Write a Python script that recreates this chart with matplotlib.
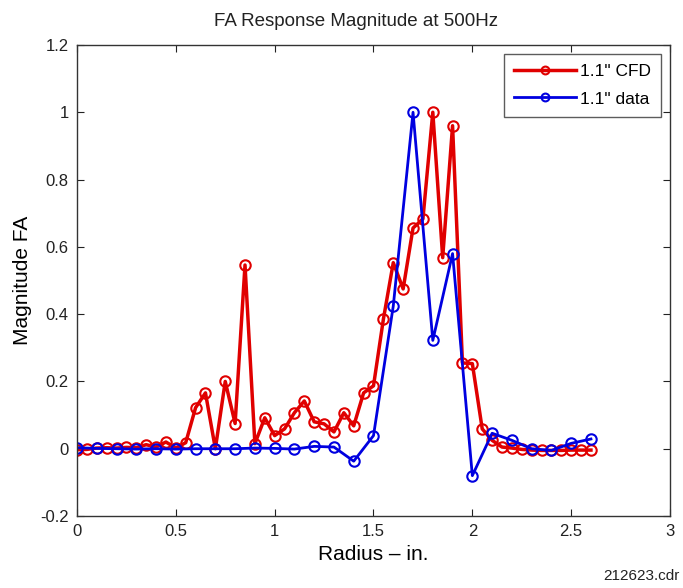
import matplotlib
matplotlib.use("Agg")
import matplotlib.pyplot as plt
import numpy as np

plt.rcParams['font.family'] = ['Liberation Sans', 'DejaVu Sans']

# CFD series (spacing 0.05)
cfd_x = [0.00, 0.05, 0.10, 0.15, 0.20, 0.25, 0.30, 0.35, 0.40, 0.45, 0.50, 0.55,
         0.60, 0.65, 0.70, 0.75, 0.80, 0.85, 0.90, 0.95, 1.00, 1.05, 1.10, 1.15,
         1.20, 1.25, 1.30, 1.35, 1.40, 1.45, 1.50, 1.55, 1.60, 1.65, 1.70, 1.75,
         1.80, 1.85, 1.90, 1.95, 2.00, 2.05, 2.10, 2.15, 2.20, 2.25, 2.30, 2.35,
         2.40, 2.45, 2.50, 2.55, 2.60]
cfd_y = [-0.003, -0.002, 0.002, 0.003, 0.002, 0.004, 0.003, 0.012, 0.005, 0.020, 0.002, 0.018,
         0.122, 0.166, 0.000, 0.200, 0.075, 0.546, 0.015, 0.092, 0.039, 0.059, 0.107, 0.142,
         0.080, 0.074, 0.050, 0.107, 0.068, 0.166, 0.187, 0.385, 0.553, 0.475, 0.656, 0.683,
         1.000, 0.568, 0.960, 0.255, 0.253, 0.059, 0.025, 0.005, 0.002, -0.002, -0.004, -0.005,
         -0.005, -0.005, -0.004, -0.004, -0.004]

# Measured data (spacing 0.1)
dat_x = [0.0, 0.1, 0.2, 0.3, 0.4, 0.5, 0.6, 0.7, 0.8, 0.9, 1.0, 1.1, 1.2, 1.3,
         1.4, 1.5, 1.6, 1.7, 1.8, 1.9, 2.0, 2.1, 2.2, 2.3, 2.4, 2.5, 2.6]
dat_y = [0.003, 0.001, 0.000, -0.001, 0.000, -0.001, 0.000, 0.000, 0.000, 0.002, 0.001, -0.001, 0.007, 0.005,
         -0.037, 0.039, 0.424, 1.000, 0.322, 0.580, -0.080, 0.046, 0.025, 0.000, -0.005, 0.016, 0.029]

x_ticks = [0, 0.5, 1, 1.5, 2, 2.5, 3]
x_tick_labels = ['0', '0.5', '1', '1.5', '2', '2.5', '3']
y_ticks = [-0.2, 0, 0.2, 0.4, 0.6, 0.8, 1.0, 1.2]
y_tick_labels = ['-0.2', '0', '0.2', '0.4', '0.6', '0.8', '1', '1.2']

red = '#e00000'
blue = '#0000e0'

fig = plt.figure(figsize=(6.83, 5.88), dpi=100)
ax = fig.add_axes([0.1127, 0.1224, 0.981 - 0.1127, 0.9235 - 0.1224])

ax.plot(cfd_x, cfd_y, color=red, lw=2.5, marker='o', ms=7.5, mfc='none',
        mec=red, mew=1.5, label='1.1" CFD')
ax.plot(dat_x, dat_y, color=blue, lw=2.0, marker='o', ms=7.5, mfc='none',
        mec=blue, mew=1.5, label='1.1" data')

ax.set_xlim(0, 3)
ax.set_ylim(-0.2, 1.2)
ax.set_xticks(x_ticks)
ax.set_xticklabels(x_tick_labels)
ax.set_yticks(y_ticks)
ax.set_yticklabels(y_tick_labels)
ax.tick_params(direction='in', top=True, right=True, labelsize=12, length=5,
               colors='#222222', pad=6)
for s in ax.spines.values():
    s.set_color('#333333')
    s.set_linewidth(1.0)

ax.set_xlabel('Radius – in.', fontsize=15, labelpad=4)
ax.set_ylabel('Magnitude FA', fontsize=15, labelpad=6)
ax.set_title('FA Response Magnitude at 500Hz', fontsize=13.5, pad=14, color='#222222',
             x=0.47)

leg = ax.legend(loc='upper right', fontsize=12.5, frameon=True, fancybox=False,
                edgecolor='#333333', handlelength=3.6, borderaxespad=0.5,
                labelspacing=0.7, handletextpad=0.2, borderpad=0.6, markerscale=0.75)
leg.get_frame().set_linewidth(1.0)

fig.text(0.995, 0.008, '212623.cdr', ha='right', va='bottom', fontsize=11, color='#222222')

fig.savefig('out.png', dpi=100)
